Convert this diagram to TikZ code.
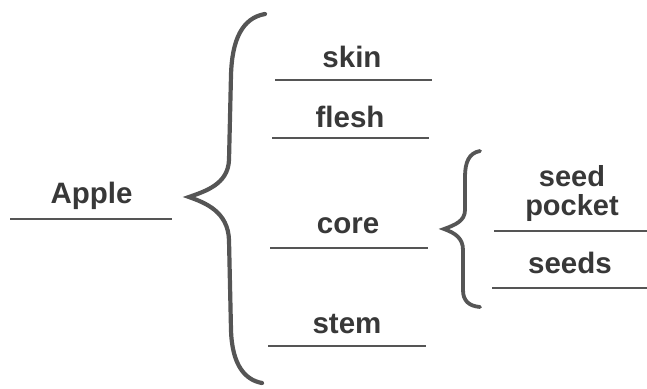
\documentclass[tikz,border=0pt]{standalone}
\usepackage{fontspec}
\setmainfont{Liberation Sans}
\definecolor{ink}{HTML}{383838}
\definecolor{rulec}{HTML}{555555}
\begin{document}
\begin{tikzpicture}[x=1pt,y=-1pt,
  lbl/.style={anchor=base, inner sep=0pt, text=ink, font=\fontsize{29.5}{26}\selectfont\bfseries},
  uline/.style={draw=rulec, line width=2.6pt},
  bracec/.style={draw=rulec, line width=4.2pt, line cap=round, line join=miter, miter limit=12}]
\useasboundingbox (0,0) rectangle (647,388);
% labels
\node[lbl] (apple) at (91.5,203) {Apple};
\node[lbl] (skin) at (352,67) {skin};
\node[lbl] (flesh) at (350,127) {flesh};
\node[lbl] (core) at (348,233) {core};
\node[lbl] (stem) at (347,333) {stem};
\node[lbl, align=center, font=\fontsize{29}{29}\selectfont\bfseries] (pocket) at (572,215) {seed\\pocket};
\node[lbl] (seeds) at (570,273) {seeds};
% underline endpoints
\coordinate (aL) at (10,219);  \coordinate (aR) at (172,219);
\coordinate (sL) at (275,80);  \coordinate (sR) at (432,80);
\coordinate (fL) at (272,138); \coordinate (fR) at (429,138);
\coordinate (cL) at (270,248); \coordinate (cR) at (428,248);
\coordinate (tL) at (268,346); \coordinate (tR) at (426,346);
\coordinate (pL) at (494,231); \coordinate (pR) at (647,231);
\coordinate (dL) at (492,288); \coordinate (dR) at (647,288);
\draw[uline] (aL) -- (aR);
\draw[uline] (sL) -- (sR);
\draw[uline] (fL) -- (fR);
\draw[uline] (cL) -- (cR);
\draw[uline] (tL) -- (tR);
\draw[uline] (pL) -- (pR);
\draw[uline] (dL) -- (dR);
% big brace
\coordinate (bTop) at (265,14);
\coordinate (bTip) at (189,197);
\coordinate (bBot) at (262,383);
\draw[bracec] (bTop) .. controls (242,18) and (232,40) .. (231,75)
  -- (229,160) .. controls (228,184) and (206,191) .. (bTip)
  .. controls (206,203) and (228,212) .. (229,240)
  -- (231,330) .. controls (232,365) and (245,380) .. (bBot);
% small brace
\coordinate (sTop) at (480,151);
\coordinate (sTip) at (444,229);
\coordinate (sBot) at (480,307);
\draw[bracec, line width=3.8pt] (sTop) .. controls (469,153) and (465,162) .. (465,177)
  -- (465,210) .. controls (465,221) and (455,225) .. (sTip)
  .. controls (455,233) and (463,238) .. (463,250)
  -- (463,290) .. controls (463,301) and (469,306) .. (sBot);
\end{tikzpicture}
\end{document}
